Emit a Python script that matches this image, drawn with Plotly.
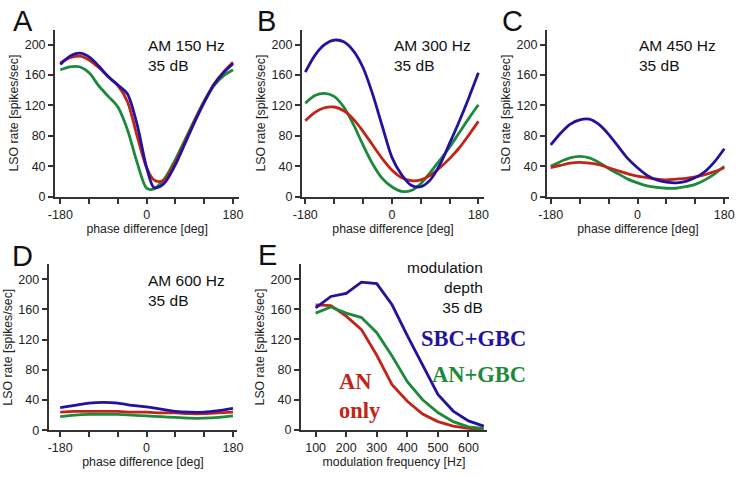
import plotly.graph_objects as go

W, H = 740, 478

BLUE = "#22129e"
RED = "#c22418"
GREEN = "#1c8a3a"
AX = "#333333"

# ---------------- data ----------------
phase_A = [-180, -160, -140, -120, -100, -80, -60, -40, -20, 0, 15, 30, 40, 60, 80, 100, 120, 140, 160, 180]
A_red   = [176, 183, 185, 180, 170, 158, 146, 125, 80, 38, 22, 20, 24, 45, 72, 100, 125, 148, 164, 177]
A_blue  = [174, 185, 189, 184, 172, 158, 147, 135, 95, 38, 12, 14, 20, 42, 70, 98, 124, 147, 163, 175]
A_green = [167, 171, 171, 163, 146, 132, 118, 88, 45, 11, 10, 18, 26, 49, 75, 101, 126, 146, 159, 167]

phase = [-180, -160, -140, -120, -100, -80, -60, -40, -20, 0, 20, 40, 60, 80, 100, 120, 140, 160, 180]
B_blue  = [164, 186, 200, 206, 204, 192, 170, 135, 93, 52, 29, 15, 13, 22, 42, 70, 99, 130, 163]
B_green = [123, 133, 136, 132, 118, 95, 68, 43, 24, 13, 7, 8, 17, 32, 48, 65, 84, 103, 121]
B_red   = [100, 111, 117, 118, 113, 102, 86, 68, 50, 35, 25, 21, 22, 28, 38, 50, 64, 81, 99]

C_blue  = [68, 83, 95, 101, 102, 95, 82, 66, 50, 38, 28, 22, 19, 18, 20, 25, 33, 46, 63]
C_green = [40, 46, 51, 53, 51, 45, 37, 30, 23, 18, 14, 12, 11, 11, 13, 16, 22, 30, 40]
C_red   = [38, 41, 44, 45, 44, 42, 38, 34, 30, 27, 25, 23, 22, 23, 24, 26, 29, 33, 38]

phase_D = [-180, -150, -120, -90, -60, -30, 0, 30, 60, 90, 120, 150, 180]
D_blue  = [30, 33, 36, 37, 36, 33, 31, 28, 25, 24, 24, 26, 29]
D_red   = [24, 25, 25, 25, 25, 24, 24, 23, 23, 22, 22, 23, 24]
D_green = [18, 20, 21, 21, 21, 20, 19, 18, 17, 16, 16, 17, 19]

freq    = [100, 150, 200, 250, 300, 350, 400, 450, 500, 550, 600, 650]
E_blue  = [162, 177, 181, 196, 194, 166, 125, 86, 47, 25, 12, 5]
E_green = [155, 163, 155, 149, 129, 98, 64, 40, 23, 11, 4, 2]
E_red   = [166, 165, 151, 133, 99, 60, 38, 21, 11, 5, 2, 0.5]

phase_ticks = [-180, -120, -60, 0, 60, 120, 180]
phase_labels = ["-180", "", "", "0", "", "", "180"]
rate_ticks = [0, 40, 80, 120, 160, 200]
freq_ticks = [100, 200, 300, 400, 500, 600]

# ---------------- layout helpers ----------------
def xd(a, b):
    return [a / W, b / W]

def yd(top, bottom):
    return [(H - bottom) / H, (H - top) / H]

panels = [
    # name, x pixel domain, y pixel domain (top,bottom), xrange
    ("A", xd(47, 235), yd(30, 199.5), [-191, 193]),
    ("B", xd(299, 485), yd(30, 199.5), [-187, 192]),
    ("C", xd(549, 735), yd(30, 199.5), [-188, 190]),
    ("D", xd(40.5, 233), yd(268, 436.7), [-204, 189]),
    ("E", xd(298, 488), yd(268, 436.3), [52, 661]),
]

fig = go.Figure()

series = [
    (phase_A, [A_red, A_blue, A_green]),
    (phase, [B_red, B_blue, B_green]),
    (phase, [C_red, C_blue, C_green]),
    (phase_D, [D_red, D_blue, D_green]),
    (freq, [E_red, E_blue, E_green]),
]
cols = [RED, BLUE, GREEN]

for i, (xs, ys_list) in enumerate(series):
    n = i + 1
    xa = "x" if n == 1 else f"x{n}"
    ya = "y" if n == 1 else f"y{n}"
    shape = "linear" if n == 5 else "spline"
    order = [2, 0, 1] if n != 5 else [0, 2, 1]
    for k in order:
        fig.add_trace(go.Scatter(
            x=xs, y=ys_list[k], mode="lines", xaxis=xa, yaxis=ya,
            line=dict(color=cols[k], width=2.8, shape=shape, smoothing=0.8),
            showlegend=False, hoverinfo="skip"))

tickfont = dict(family="Liberation Sans, Arial, sans-serif", size=12.5, color="#222")
titlefont = dict(family="Liberation Sans, Arial, sans-serif", size=12.3, color="#222")

for i, (name, xdom, ydom, xr) in enumerate(panels):
    n = i + 1
    xk = "xaxis" if n == 1 else f"xaxis{n}"
    yk = "yaxis" if n == 1 else f"yaxis{n}"
    ya = "y" if n == 1 else f"y{n}"
    xa = "x" if n == 1 else f"x{n}"
    if name == "E":
        xt = dict(tickvals=freq_ticks, ticktext=[str(v) for v in freq_ticks])
        xtitle = "modulation frequency [Hz]"
    else:
        xt = dict(tickvals=phase_ticks, ticktext=phase_labels)
        xtitle = "phase difference [deg]"
    fig.layout[xk] = dict(
        domain=xdom, range=xr, anchor=ya, tickmode="array", **xt,
        showline=True, linecolor=AX, linewidth=2, ticks="outside", ticklen=5,
        tickwidth=1.5, tickcolor=AX, showgrid=False, zeroline=False,
        tickfont=tickfont, title=dict(text=xtitle, font=titlefont, standoff=1),
        fixedrange=True)
    fig.layout[yk] = dict(
        domain=ydom, range=[0, 220], anchor=xa, tickmode="array",
        tickvals=rate_ticks, ticktext=[str(v) for v in rate_ticks],
        showline=True, linecolor=AX, linewidth=2, ticks="outside", ticklen=5,
        tickwidth=1.5, tickcolor=AX, showgrid=False, zeroline=False,
        tickfont=tickfont, title=dict(text="LSO rate [spikes/sec]", font=titlefont, standoff=3),
        fixedrange=True)

annfont = dict(family="Liberation Sans, Arial, sans-serif", size=15.5, color="#111")
letterfont = dict(family="Liberation Sans, Arial, sans-serif", size=29, color="#111")

anns = []
letters = [("A", 2, 3), ("B", 251, 3), ("C", 501, 3), ("D", 1, 242), ("E", 252, 241)]
for t, px, py in letters:
    anns.append(dict(text=t, x=px / W, y=1 - py / H, xref="paper", yref="paper",
                     xanchor="left", yanchor="top", showarrow=False, font=letterfont))

labels = [("AM 150 Hz<br>35 dB", 140, 36), ("AM 300 Hz<br>35 dB", 391, 36),
          ("AM 450 Hz<br>35 dB", 641, 36), ("AM 600 Hz<br>35 dB", 140, 274)]
for t, px, py in labels:
    anns.append(dict(text=t, x=px / W, y=1 - py / H, xref="paper", yref="paper",
                     xanchor="left", yanchor="top", align="left", showarrow=False,
                     font=annfont))

anns.append(dict(text="modulation<br>depth<br>35 dB", x=486 / W, y=1 - 261 / H,
                 xref="paper", yref="paper", xanchor="right", yanchor="top",
                 align="right", showarrow=False, font=annfont))

serif = "Liberation Serif, Times New Roman, serif"
anns.append(dict(text="<b>SBC+GBC</b>", x=530 / W, y=1 - 344 / H, xref="paper", yref="paper",
                 xanchor="right", yanchor="middle", showarrow=False,
                 font=dict(family=serif, size=22.5, color=BLUE)))
anns.append(dict(text="<b>AN+GBC</b>", x=530 / W, y=1 - 380 / H, xref="paper", yref="paper",
                 xanchor="right", yanchor="middle", showarrow=False,
                 font=dict(family=serif, size=22.5, color=GREEN)))
anns.append(dict(text="<b>AN<br>only</b>", x=335 / W, y=1 - 402 / H, xref="paper", yref="paper",
                 xanchor="left", yanchor="middle", align="left", showarrow=False,
                 font=dict(family=serif, size=22.5, color=RED)))

fig.update_layout(
    width=W, height=H, margin=dict(l=0, r=0, t=0, b=0),
    paper_bgcolor="white", plot_bgcolor="white", annotations=anns,
    showlegend=False)

fig.write_html("out.html", config={"displayModeBar": False})
